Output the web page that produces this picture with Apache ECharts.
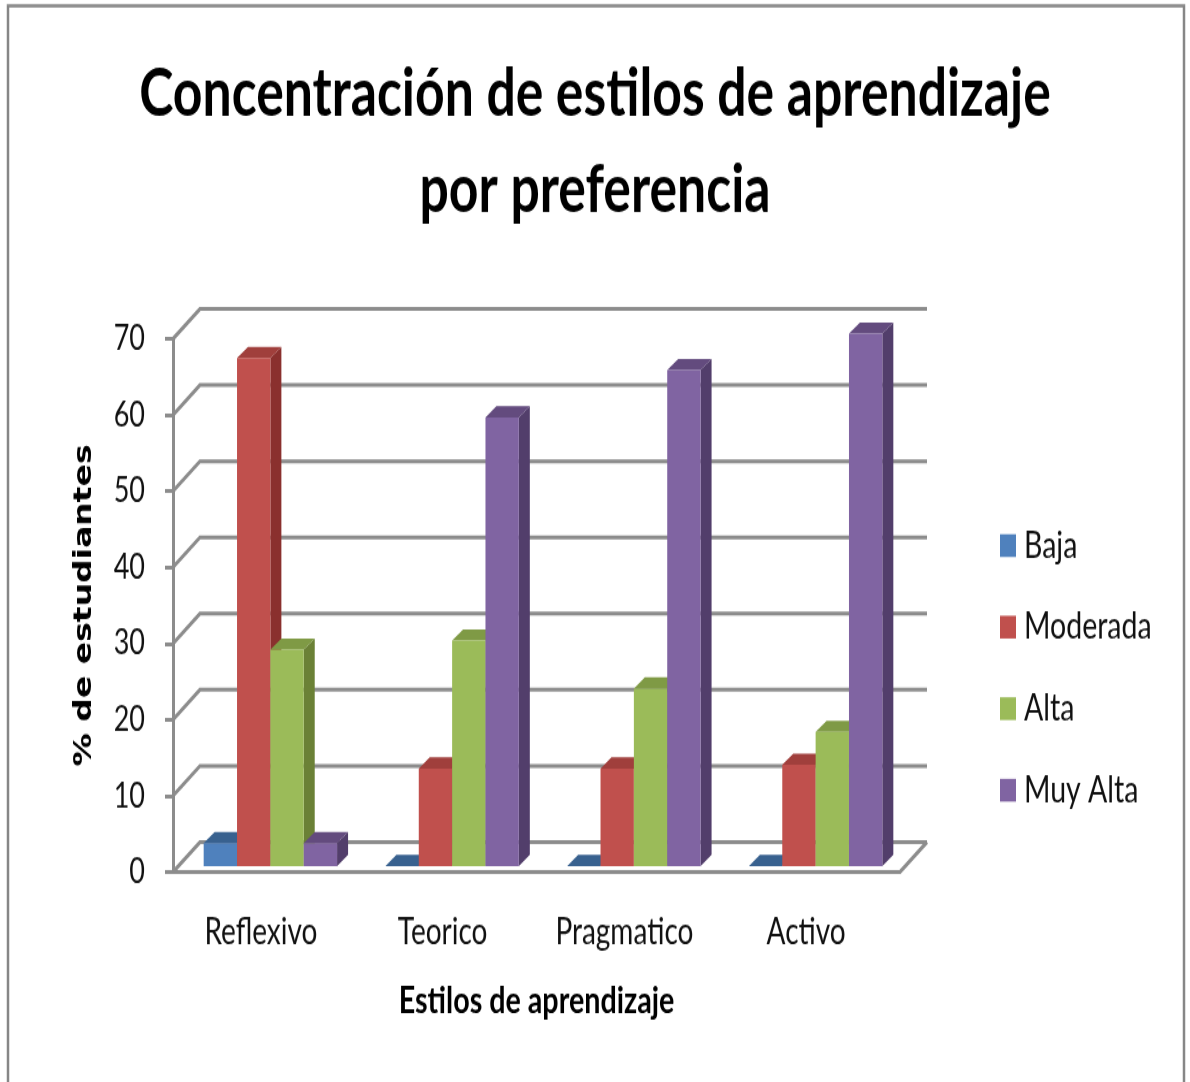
<!DOCTYPE html>
<html>
<head>
<meta charset="utf-8">
<title>Concentración de estilos de aprendizaje</title>
<script src="https://cdn.jsdelivr.net/npm/echarts@6/dist/echarts.min.js"></script>
<style>
  html, body { margin: 0; padding: 0; background: #fff; width: 1190px; height: 1082px; }
  /* the source picture is stretched vertically, so the whole chart is too */
  #chart { width: 1190px; height: 832px; transform: scaleY(1.3005); transform-origin: 0 0; }
</style>
</head>
<body>
<div id="chart"></div>
<script>
const categories = ['Reflexivo', 'Teorico', 'Pragmatico', 'Activo'];
const baja = [3, 0, 0, 0];
const moderada = [66.7, 12.8, 12.8, 13.3];
const alta = [28.4, 29.6, 23.3, 17.6];
const muyAlta = [3, 58.9, 65.1, 69.9];
const yTicks = [0, 10, 20, 30, 40, 50, 60, 70];

const wallColor = '#8c8c8c';
const font = 'Lato';

// front, top and side colours of each series
const palette = [
  { name: 'Baja', values: baja, front: '#4f81bd', top: '#38618f', side: '#2f5179' },
  { name: 'Moderada', values: moderada, front: '#c0504d', top: '#a03f3c', side: '#8a302e' },
  { name: 'Alta', values: alta, front: '#9bbb59', top: '#7f9a45', side: '#6b8136' },
  { name: 'Muy Alta', values: muyAlta, front: '#8064a2', top: '#634b7e', side: '#523e6b' }
];

const chart = echarts.init(document.getElementById('chart'));

// back wall, left wall and floor of the 3D box
const renderWall = (params, api) => {
  const box = params.coordSys;
  const y = api.coord([0, api.value(1)])[1];
  const dx = 27, dy = -23;
  const style = { stroke: wallColor, lineWidth: 3, fill: null };
  const left = box.x, right = box.x + box.width;
  const children = [
    { type: 'polyline', shape: { points: [[left, y], [left + dx, y + dy], [right + dx, y + dy]] }, style }
  ];
  if (api.value(1) === 0) {
    children.push({ type: 'polyline', shape: { points: [[right + dx, y + dy], [right, y], [left, y]] }, style });
  }
  return { type: 'group', children };
};

const renderBar = (seriesIndex) => (params, api) => {
  const cat = api.value(0);
  const w = api.size([1, 0])[0] * 0.1835;
  const base = api.coord([cat, 0]);
  const top = api.coord([cat, api.value(1)]);
  const x0 = base[0] + 6.5 + (seriesIndex - 2) * w;
  const x1 = x0 + w;
  const y0 = base[1] - 4.6;
  const y1 = top[1] - 4.6;
  const dx = 11, dy = -8.6;
  const p = palette[seriesIndex];
  return {
    type: 'group',
    children: [
      { type: 'polygon', shape: { points: [[x1, y0], [x1 + dx, y0 + dy], [x1 + dx, y1 + dy], [x1, y1]] }, style: { fill: p.side } },
      { type: 'polygon', shape: { points: [[x0, y1], [x1, y1], [x1 + dx, y1 + dy], [x0 + dx, y1 + dy]] }, style: { fill: p.top } },
      { type: 'rect', shape: { x: x0, y: y1, width: w, height: y0 - y1 }, style: { fill: p.front } }
    ]
  };
};

const option = {
  backgroundColor: '#fff',
  animation: false,
  title: {
    text: 'Concentración de estilos de aprendizaje\npor preferencia',
    left: 590,
    top: 30,
    textAlign: 'center',
    textStyle: { fontFamily: font, fontWeight: 'bold', fontSize: 51.7, lineHeight: 74.5, color: '#000' }
  },
  legend: {
    orient: 'vertical',
    left: 995,
    top: 400,
    itemWidth: 16,
    itemHeight: 17.5,
    itemGap: 33.7,
    icon: 'rect',
    data: palette.map(p => p.name),
    selectedMode: false,
    textStyle: { fontFamily: font, fontSize: 28.5, color: '#111', padding: [0, 0, 0, 3] }
  },
  grid: { left: 173, top: 260.5, width: 727, height: 410, containLabel: false },
  xAxis: {
    type: 'category',
    data: categories,
    name: 'Estilos de aprendizaje',
    nameLocation: 'middle',
    nameGap: 85,
    nameTextStyle: { fontFamily: font, fontWeight: 'bold', fontSize: 28.7, color: '#000' },
    axisLine: { show: false },
    axisTick: { show: false },
    axisLabel: { fontFamily: font, fontSize: 28, color: '#111', margin: 32, padding: [0, 6, 0, 0] }
  },
  yAxis: {
    type: 'value',
    min: 0,
    max: 70,
    interval: 10,
    name: '% de estudiantes',
    nameLocation: 'middle',
    nameGap: 76,
    nameTextStyle: { fontFamily: 'DejaVu Sans', fontWeight: 'bold', fontSize: 25.4, color: '#000' },
    axisLine: { show: true, lineStyle: { color: wallColor, width: 3 } },
    axisTick: { show: true, length: 8, lineStyle: { color: wallColor, width: 3 } },
    axisLabel: { fontFamily: font, fontSize: 27, color: '#111', margin: 28 },
    splitLine: { show: false }
  },
  graphic: [
    {
      type: 'polyline',
      silent: true,
      shape: { points: [[8, 832], [8, 4.5], [1184, 4.5], [1184, 832]] },
      style: { stroke: '#868686', lineWidth: 2.5, fill: null }
    }
  ],
  series: [
    {
      type: 'custom',
      name: 'walls',
      silent: true,
      clip: false,
      renderItem: renderWall,
      encode: { x: 0, y: 1 },
      data: yTicks.map(v => [0, v]),
      z: 1
    },
    ...palette.map((p, i) => ({
      type: 'custom',
      name: p.name,
      clip: false,
      renderItem: renderBar(i),
      itemStyle: { color: p.front },
      encode: { x: 0, y: 1 },
      data: p.values.map((v, j) => [j, v]),
      z: 2 + i
    }))
  ]
};

chart.setOption(option);
</script>
</body>
</html>
